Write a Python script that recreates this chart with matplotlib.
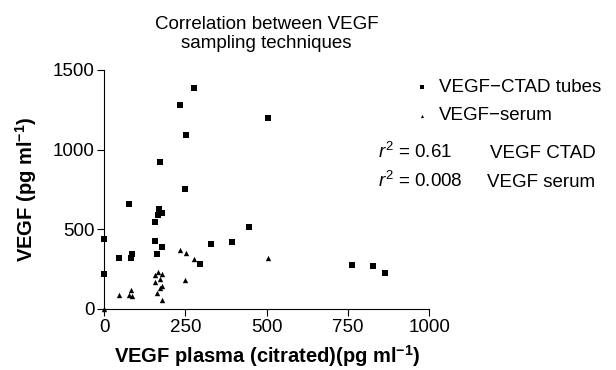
import numpy as np
import matplotlib.pyplot as plt

plt.rcParams['font.family'] = ['Liberation Sans', 'DejaVu Sans']
plt.rcParams['mathtext.fontset'] = 'custom'
plt.rcParams['mathtext.rm'] = 'Liberation Sans'
plt.rcParams['mathtext.it'] = 'Liberation Sans:italic'
plt.rcParams['mathtext.bf'] = 'Liberation Sans:bold'

# VEGF-CTAD tubes (plasma x, ctad y)
ctad_x = [276, 234, 503, 253, 171, 248, 76, 170, 167, 179, 157, 446, 0, 158,
          328, 394, 179, 85, 164, 46, 82, 295, 0, 763, 827, 863]
ctad_y = [1385, 1281, 1200, 1090, 923, 752, 660, 627, 590, 600, 548, 512, 440, 427,
          406, 419, 387, 346, 346, 319, 319, 283, 219, 277, 269, 227]

# VEGF-serum
serum_x = [234, 253, 276, 503, 167, 158, 179, 158, 171, 248, 179, 171, 164, 179,
           46, 82, 76, 85, 0]
serum_y = [367, 350, 312, 319, 235, 215, 219, 169, 190, 181, 146, 131, 100, 54,
           87, 121, 90, 79, 0]

fig = plt.figure(figsize=(6.16, 3.7), dpi=100)
ax = fig.add_axes([0.169, 0.165, 0.528, 0.646])

ax.scatter(ctad_x, ctad_y, marker='s', s=18, color='black', linewidths=0,
           clip_on=False, label='VEGF\u2212CTAD tubes', zorder=3)
ax.scatter(serum_x, serum_y, marker='^', s=15, color='black', linewidths=0,
           clip_on=False, label='VEGF\u2212serum', zorder=3)

ax.set_xlim(0, 1000)
ax.set_ylim(0, 1500)
ax.set_xticks([0, 250, 500, 750, 1000])
ax.set_yticks([0, 500, 1000, 1500])
ax.spines['top'].set_visible(False)
ax.spines['right'].set_visible(False)
ax.tick_params(direction='out', length=5, labelsize=13.5, width=0.8, pad=2)
ax.set_xlabel('VEGF plasma (citrated)(pg ml$^{\\mathbf{-1}}$)', fontsize=14.5,
              fontweight='bold', labelpad=5)
ax.set_ylabel('VEGF (pg ml$^{\\mathbf{-1}}$)', fontsize=14.5, fontweight='bold',
              labelpad=10)
ax.set_title('Correlation between VEGF\nsampling techniques', fontsize=13.5,
             pad=16, linespacing=1.1)

ax.legend(loc='upper left', bbox_to_anchor=(0.651, 0.812), bbox_transform=fig.transFigure,
          frameon=False, fontsize=13.5, handletextpad=0.3, markerscale=0.6,
          labelspacing=0.6, handlelength=1.2, borderpad=0)

fig.text(0.613, 0.572, '$r^2$ = 0.61', fontsize=13.5)
fig.text(0.795, 0.572, 'VEGF CTAD', fontsize=13.5)
fig.text(0.613, 0.494, '$r^2$ = 0.008', fontsize=13.5)
fig.text(0.79, 0.494, 'VEGF serum', fontsize=13.5)

fig.savefig('out.png', dpi=100)
